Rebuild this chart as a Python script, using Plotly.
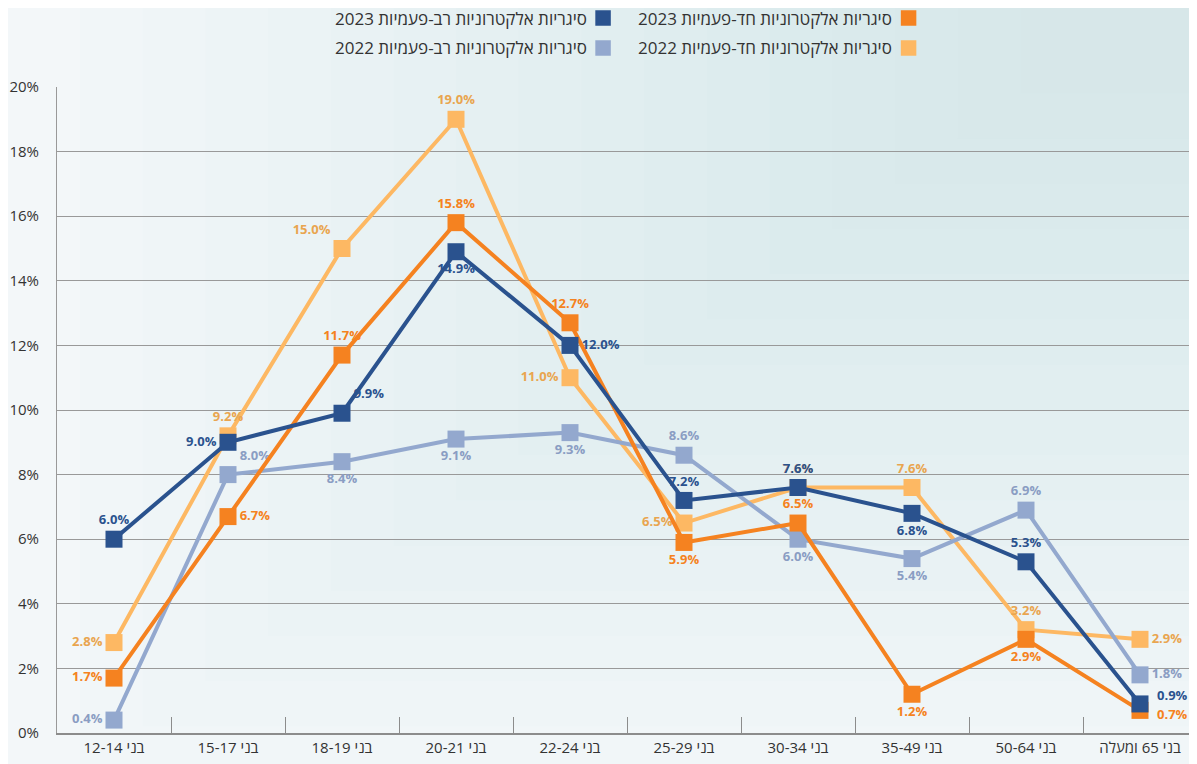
import plotly.graph_objects as go

# age groups (x axis)
age_groups = ['בני 12-14', 'בני 15-17', 'בני 18-19', 'בני 20-21', 'בני 22-24',
              'בני 25-29', 'בני 30-34', 'בני 35-49', 'בני 50-64', 'בני 65 ומעלה']

# percentages per series
single_2023 = [1.7, 6.7, 11.7, 15.8, 12.7, 5.9, 6.5, 1.2, 2.9, 0.7]
single_2022 = [2.8, 9.2, 15.0, 19.0, 11.0, 6.5, 7.6, 7.6, 3.2, 2.9]
multi_2023 = [6.0, 9.0, 9.9, 14.9, 12.0, 7.2, 7.6, 6.8, 5.3, 0.9]
multi_2022 = [0.4, 8.0, 8.4, 9.1, 9.3, 8.6, 6.0, 5.4, 6.9, 1.8]

names = ['סיגריות אלקטרוניות חד-פעמיות 2023', 'סיגריות אלקטרוניות חד-פעמיות 2022',
         'סיגריות אלקטרוניות רב-פעמיות 2023', 'סיגריות אלקטרוניות רב-פעמיות 2022']

# label placement for each point (style only); a tuple = (xshift, yshift) annotation
pos_single_2023 = ['middle left', 'middle right', 'top center', 'top center', 'top center',
                   'bottom center', 'top center', 'bottom center', 'bottom center', (15, -4)]
pos_single_2022 = ['middle left', 'top center', 'top left', 'top center', 'middle left',
                   'middle left', 'top center', 'top center', 'top center', 'middle right']
pos_multi_2023 = ['top center', 'middle left', 'top right', 'bottom center', 'middle right',
                  'top center', 'top center', 'bottom center', 'top center', (15, 9)]
pos_multi_2022 = ['middle left', 'top right', 'bottom center', 'bottom center', 'bottom center',
                  'top center', 'bottom center', 'bottom center', 'top center', 'middle right']

font = 'Open Sans, Noto Sans, DejaVu Sans, sans-serif'

series = [
    (single_2022, '#FDB863', '#E9A54F', pos_single_2022, names[1]),
    (multi_2022, '#93A8CE', '#8A9DC3', pos_multi_2022, names[3]),
    (single_2023, '#F58220', '#F58220', pos_single_2023, names[0]),
    (multi_2023, '#2A528E', '#2A528E', pos_multi_2023, names[2]),
]

fig = go.Figure()

# soft sky-like background: light towards bottom-left, bluer towards top-right
for i in range(16):
    fig.add_shape(type='rect', xref='paper', yref='paper', layer='below',
                  x0=0.02 + 0.055 * i, x1=1.01, y0=-0.06 + 0.07 * i, y1=1.15,
                  fillcolor='rgba(190,222,232,0.028)', line=dict(width=0))

for vals, color, tcolor, pos, name in series:
    labels = ['%.1f%%' % v if isinstance(p, str) else '' for v, p in zip(vals, pos)]
    fig.add_trace(go.Scatter(
        x=age_groups, y=vals, name=name,
        mode='lines+markers+text',
        line=dict(color=color, width=4),
        marker=dict(symbol='square', size=17, color=color),
        text=labels,
        textposition=[p if isinstance(p, str) else 'middle right' for p in pos],
        textfont=dict(family=font, size=13, color=tcolor, weight='bold'),
        cliponaxis=False,
        showlegend=False,
    ))
    for i, p in enumerate(pos):
        if not isinstance(p, str):
            fig.add_annotation(x=age_groups[i], y=vals[i], text='%.1f%%' % vals[i],
                               showarrow=False, xanchor='left', yanchor='middle',
                               xshift=p[0], yshift=p[1],
                               font=dict(family=font, size=13, color=tcolor, weight='bold'))

# custom right-to-left legend: squares on the right of the text
legend_items = [
    (names[0], '#F58220', 0.747, 18),
    (names[1], '#FDB863', 0.747, 48),
    (names[2], '#2A528E', 0.479, 18),
    (names[3], '#93A8CE', 0.479, 48),
]
for text, color, xpos, ypix in legend_items:
    yp = 1 + (87 - ypix) / 646
    fig.add_shape(type='rect', xref='paper', yref='paper',
                  x0=xpos - 0.0068, x1=xpos + 0.0068,
                  y0=yp - 0.012, y1=yp + 0.012,
                  fillcolor=color, line=dict(width=0))
    fig.add_annotation(xref='paper', yref='paper', x=xpos - 0.0125, y=yp,
                       text='\u202B' + text + '\u202C', showarrow=False,
                       xanchor='right', yanchor='middle',
                       font=dict(family=font, size=17, color='#333333'))

# page body has an 8px margin, so the figure is sized to end at the window edge
fig.update_layout(
    width=1189, height=756,
    margin=dict(l=49, r=0, t=79, b=31),
    paper_bgcolor='#F3F7F9',
    plot_bgcolor='rgba(0,0,0,0)',
    font=dict(family=font, size=15, color='#333333'),
    xaxis=dict(
        type='category', range=[-0.5, 9.5], automargin=False,
        showgrid=False, showline=True, linecolor='#8C8C8C', linewidth=2,
        ticks='inside', tickson='boundaries', ticklen=16, tickcolor='#8C8C8C', tickwidth=1,
        tickfont=dict(family=font, size=15, color='#333333'),
    ),
    yaxis=dict(
        range=[0, 20], dtick=2, ticksuffix='%', automargin=False,
        showgrid=True, gridcolor='#999999', gridwidth=1,
        showline=True, linecolor='#999999', linewidth=1,
        zeroline=False, ticks='', ticklabelstandoff=14,
        tickfont=dict(family=font, size=15, color='#333333'),
    ),
)

fig.write_html('out.html')
